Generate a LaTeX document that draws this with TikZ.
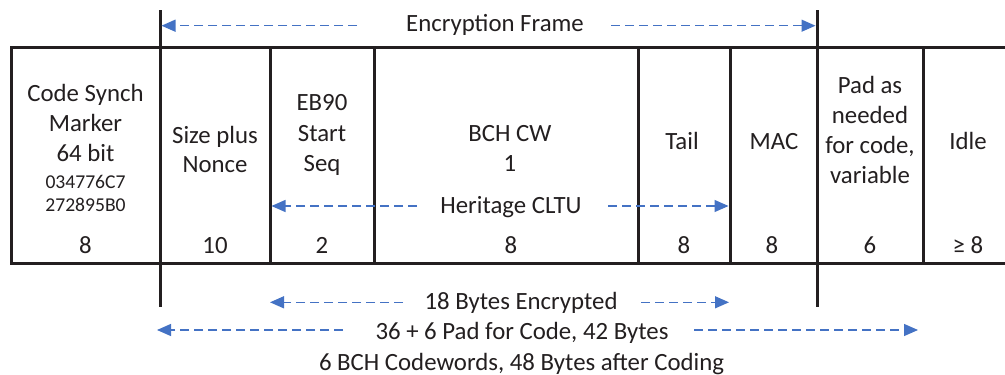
\documentclass[tikz,border=0pt]{standalone}
\usepackage{fontspec}
\setmainfont{Carlito}
\usetikzlibrary{arrows.meta}
\definecolor{txt}{HTML}{231F20}
\definecolor{arr}{HTML}{4472C4}
\begin{document}
\begin{tikzpicture}[x=1pt,y=-1pt,
  frame/.style={line width=3pt, draw=txt},
  lbl/.style={text=txt, font=\fontsize{24.8}{30}\selectfont, inner sep=0pt, anchor=base},
  sml/.style={text=txt, font=\fontsize{19.6}{23}\selectfont, inner sep=0pt, anchor=base},
  dimarrow/.style={draw=arr, line width=1.3pt, dash pattern=on 9pt off 5pt,
    -{Triangle[length=14pt,width=12pt,fill=arr]}}]
\useasboundingbox (0,0) rectangle (1005,375);
\fill[white] (0,0) rectangle (1005,375);
% table frame
\draw[frame] (1010,47.5) -- (11,47.5) -- (11,263.5) -- (1010,263.5);
\foreach \x in {270,374,638,730,923} \draw[frame] (\x,47.5) -- (\x,263.5);
\draw[frame] (160,10) -- (160,307);
\draw[frame] (817,10) -- (817,307);
% column 1
\node[lbl] (c1a) at (85.5,101.7) {Code Synch};
\node[lbl] (c1b) at (85.5,131.7) {Marker};
\node[lbl] (c1c) at (85.5,161.7) {64 bit};
\node[sml] (c1d) at (85.5,188.3) {034776C7};
\node[sml] (c1e) at (85.5,211.7) {272895B0};
\node[lbl] (n1) at (85.5,253.3) {8};
% column 2
\node[lbl] (c2a) at (215,143) {Size plus};
\node[lbl] (c2b) at (215,172.7) {Nonce};
\node[lbl] (n2) at (215,253.3) {10};
% column 3
\node[lbl] (c3a) at (322,110.5) {EB90};
\node[lbl] (c3b) at (322,141) {Start};
\node[lbl] (c3c) at (322,171.7) {Seq};
\node[lbl] (n3) at (322,253.3) {2};
% column 4
\node[lbl] (c4a) at (510,141.7) {BCH CW};
\node[lbl] (c4b) at (510,171.7) {1};
\node[lbl] (n4) at (511,253.3) {8};
% column 5
\node[lbl] (c5a) at (682,149) {Tail};
\node[lbl] (n5) at (684,253.3) {8};
% column 6
\node[lbl] (c6a) at (774,149) {MAC};
\node[lbl] (n6) at (772,253.3) {8};
% column 7
\node[lbl] (c7a) at (870,93.3) {Pad as};
\node[lbl] (c7b) at (870,123.3) {needed};
\node[lbl] (c7c) at (870,153.3) {for code,};
\node[lbl] (c7d) at (870,183.3) {variable};
\node[lbl] (n7) at (870,253.3) {6};
% column 8
\node[lbl] (c8a) at (968,149) {Idle};
\node[lbl] (n8) at (968,253.3) {≥ 8};
% span labels
\node[lbl] (ef) at (495,31.7) {Encryption Frame};
\node[lbl] (hc) at (511,213.3) {Heritage CLTU};
\node[lbl] (be) at (521,309.3) {18 Bytes Encrypted};
\node[lbl] (pd) at (522,339) {36 + 6 Pad for Code, 42 Bytes};
\node[lbl] (bc) at (521.5,370) {6 BCH Codewords, 48 Bytes after Coding};
% arrow end points
\coordinate (efL0) at (357,25.7);  \coordinate (efL1) at (161.5,25.7);
\coordinate (efR0) at (611,25.7);  \coordinate (efR1) at (815.5,25.7);
\coordinate (hcL0) at (417,206);   \coordinate (hcL1) at (271.5,206);
\coordinate (hcR0) at (608,206);   \coordinate (hcR1) at (728.5,206);
\coordinate (beL0) at (403,302.3); \coordinate (beL1) at (270,302.3);
\coordinate (beR0) at (641,302.3); \coordinate (beR1) at (729,302.3);
\coordinate (pdL0) at (343,330);   \coordinate (pdL1) at (157,330);
\coordinate (pdR0) at (694,330);   \coordinate (pdR1) at (918,330);
\draw[dimarrow] (efL0) -- (efL1);
\draw[dimarrow] (efR0) -- (efR1);
\draw[dimarrow] (hcL0) -- (hcL1);
\draw[dimarrow] (hcR0) -- (hcR1);
\draw[dimarrow] (beL0) -- (beL1);
\draw[dimarrow] (beR0) -- (beR1);
\draw[dimarrow] (pdL0) -- (pdL1);
\draw[dimarrow] (pdR0) -- (pdR1);
\end{tikzpicture}
\end{document}
